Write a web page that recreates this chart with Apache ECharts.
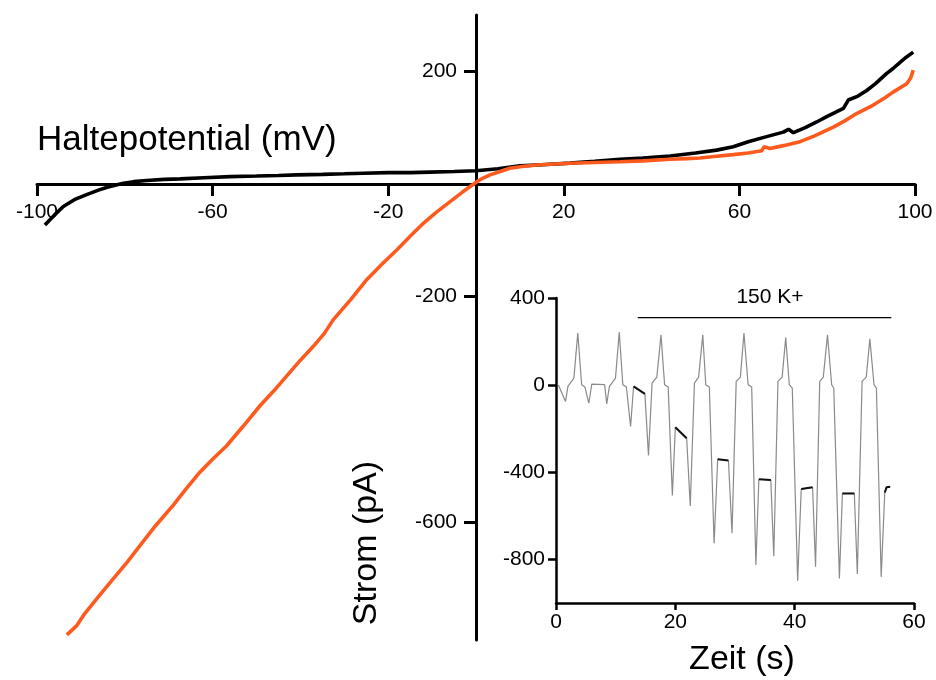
<!DOCTYPE html>
<html><head><meta charset="utf-8">
<script src="https://cdn.jsdelivr.net/npm/echarts@6/dist/echarts.min.js"></script>
<style>html,body{margin:0;padding:0;background:#fff}#c{width:936px;height:680px}</style>
</head><body><div id="c"></div>
<script>
// ---- Main I-V curves (Haltepotential mV, Strom pA) ----
const blackV = [-98.2,-96,-94,-91.5,-88.7,-86,-84,-82,-80.3,-78,-75,-71,-67.4,-62,-56,-50,-45,-40.8,-35,-30,-25.7,-20,-15,-10.5,-5,0,5,10,15,21.4,27,32.8,38,44.2,50,54.8,58.6,62,66.2,70,71.2,72.3,75,77.6,80,83.7,84.8,87,89,91,93.5,95,96.6,98,99.6];
const blackI = [-73,-55,-40,-28,-19,-11,-6,-2,1,4,6,8,9,11,13,14,15,16,17,18,19,20,20,21,22,23.5,27,32,34,37,40,43.7,46,49.6,55,60,66,75,84,92,97,91,100,110,120,134,149,156,166,178,196,205,216,225,234];
const orangeV = [-93.2,-91,-89.4,-86,-82.6,-79.5,-76.5,-73,-69,-66,-62.9,-60,-56.8,-53,-49.2,-46,-43.1,-40,-37,-34.5,-32.5,-28.5,-24.9,-21.5,-18,-15,-12,-9,-7,-5,-3,-1.4,0.2,1.5,3.2,5.5,7.7,10.5,13.8,17,21.4,27,32.8,38,44.2,48,51,54.8,58.6,62,65.1,65.6,67,70,73.8,77,81.4,84,86.7,90.5,93,95,98.1,99,99.6];
const orangeI = [-801,-785,-766,-733,-701,-672,-642,-607,-571,-541,-512,-489,-465,-430,-394,-367,-341,-313,-288,-265,-241,-205,-170,-143,-117,-93,-70,-50,-38,-26,-14,-5,4,10,16,22,27.7,31,33.6,35,36.6,38,39.5,41,43.7,45,46,49,52,55,59,66,63,68,75,85,101,112,125,140,152,163,178,188,202];
const mainXTicks = [-100,-60,-20,20,60,100];
const mainYTicks = [-600,-200,200];

// ---- Inset: current vs time (Zeit s, pA) ----
const insetT = [0.4,1.6,2.0,3.0,3.65,4.3,4.85,5.5,6.0,8.15,8.5,8.95,9.97,10.6,11.2,11.8,12.5,13.0,14.9,15.5,16.1,16.9,17.6,18.2,18.8,19.5,20.0,21.9,22.5,23.2,23.9,24.6,25.1,25.7,26.5,27.1,28.9,29.5,30.2,30.9,31.5,32.2,32.8,33.5,34.0,36.0,36.5,37.2,37.9,38.5,39.1,39.6,40.5,41.1,43.0,43.5,44.2,44.8,45.5,46.2,46.55,47.5,48.0,50.0,50.5,51.3,52.0,52.6,53.3,53.7,54.5,55.1,55.4,56.0];
const insetI = [1,-75,-6,32,239,2,-9,-83,5,2,-86,-6,32,244,2,-9,-190,-6,-40,-323,9,37,231,2,-9,-507,-193,-244,-555,9,37,231,2,-9,-726,-340,-346,-680,17,37,239,2,-9,-826,-432,-435,-785,17,37,219,2,-14,-898,-477,-469,-834,17,37,231,2,-14,-887,-497,-497,-867,17,37,213,2,-14,-880,-493,-469,-466];
// darker plateau segments (null separates segments)
const plateauT = [13.0,14.9,null,20.0,21.9,null,27.1,28.9,null,34.0,36.0,null,41.1,43.0,null,48.0,50.0,null,55.1,55.4,56.0];
const plateauI = [-6,-40,null,-193,-244,null,-340,-346,null,-432,-435,null,-477,-469,null,-497,-497,null,-493,-469,-466];
const barT = [13.7,56.2];
const barI = [310,310];
const insetXTicks = [0,20,40,60];
const insetYTicks = [-800,-400,0,400];

const zip = (a,b) => a.map((v,i)=> v===null ? [null,null] : [v,b[i]]);
const FONT = '"Liberation Sans", Arial, Helvetica, sans-serif';

// main grid geometry (pixels) and axis ranges
const G = {left:37, right:21, top:15, bottom:40};
const XMIN=-100, XMAX=100, YMIN=-810, YMAX=300;
const W = 936 - G.left - G.right, H = 680 - G.top - G.bottom;
// offsets that bring the axes to the zero lines of the other axis
const xAxisOffset = -(H * (0 - YMIN) / (YMAX - YMIN));
const yAxisOffset = -(W * (0 - XMIN) / (XMAX - XMIN));

const chart = echarts.init(document.getElementById('c'), null, {renderer:'canvas'});
const lbl = (extra) => Object.assign({color:'#000', fontSize:21, fontFamily:FONT}, extra);

chart.setOption({
  animation:false,
  backgroundColor:'#fff',
  grid:[
    Object.assign({outerBoundsMode:'none', containLabel:false}, G),
    {left:556, right:22, top:298, bottom:77, outerBoundsMode:'none', containLabel:false}
  ],
  xAxis:[
    {gridIndex:0, type:'value', min:XMIN, max:XMAX, position:'bottom', offset:xAxisOffset,
     axisLine:{onZero:false, lineStyle:{color:'#000', width:3}},
     axisTick:{customValues:mainXTicks, length:12, lineStyle:{color:'#000', width:3}},
     axisLabel:lbl({customValues:mainXTicks, margin:18}),
     splitLine:{show:false}},
    {gridIndex:1, type:'value', min:0, max:60, interval:20,
     axisLine:{onZero:false, lineStyle:{color:'#000', width:2.5}},
     axisTick:{customValues:insetXTicks, length:7, lineStyle:{color:'#000', width:2.5}},
     axisLabel:lbl({customValues:insetXTicks, margin:9}),
     splitLine:{show:false}}
  ],
  yAxis:[
    {gridIndex:0, type:'value', min:YMIN, max:YMAX, position:'left', offset:yAxisOffset,
     axisLine:{onZero:false, lineStyle:{color:'#000', width:3}},
     axisTick:{customValues:mainYTicks, length:12, lineStyle:{color:'#000', width:3}},
     axisLabel:lbl({customValues:mainYTicks, margin:19}),
     splitLine:{show:false}},
    {gridIndex:1, type:'value', min:-1000, max:400,
     axisLine:{onZero:false, lineStyle:{color:'#000', width:2.5}},
     axisTick:{customValues:insetYTicks, length:8, lineStyle:{color:'#000', width:2.5}},
     axisLabel:lbl({customValues:insetYTicks, margin:11}),
     splitLine:{show:false}}
  ],
  series:[
    {type:'line', xAxisIndex:0, yAxisIndex:0, data:zip(blackV,blackI), symbol:'none',
     lineStyle:{color:'#000', width:3.6}, z:3},
    {type:'line', xAxisIndex:0, yAxisIndex:0, data:zip(orangeV,orangeI), symbol:'none',
     lineStyle:{color:'#ff5a1e', width:3.6}, z:4},
    {type:'line', xAxisIndex:1, yAxisIndex:1, data:zip(insetT,insetI), symbol:'none',
     lineStyle:{color:'#8a8a8a', width:1.2}, z:3},
    {type:'line', xAxisIndex:1, yAxisIndex:1, data:zip(plateauT,plateauI), symbol:'none', connectNulls:false,
     lineStyle:{color:'#111', width:2}, z:4},
    {type:'line', xAxisIndex:1, yAxisIndex:1, data:zip(barT,barI), symbol:'none',
     lineStyle:{color:'#000', width:1.3}, z:4}
  ],
  graphic:[
    {type:'text', x:37, y:140, style:{text:'Haltepotential (mV)', fontSize:35, fontFamily:FONT, fill:'#000', align:'left', verticalAlign:'middle'}},
    {type:'text', x:367, y:543, rotation:Math.PI/2, style:{text:'Strom (pA)', fontSize:34, fontFamily:FONT, fill:'#000', align:'center', verticalAlign:'middle'}},
    {type:'text', x:742, y:660, style:{text:'Zeit (s)', fontSize:34, fontFamily:FONT, fill:'#000', align:'center', verticalAlign:'middle'}},
    {type:'text', x:770, y:297, style:{text:'150 K+', fontSize:21, fontFamily:FONT, fill:'#000', align:'center', verticalAlign:'middle'}}
  ]
});
</script></body></html>
